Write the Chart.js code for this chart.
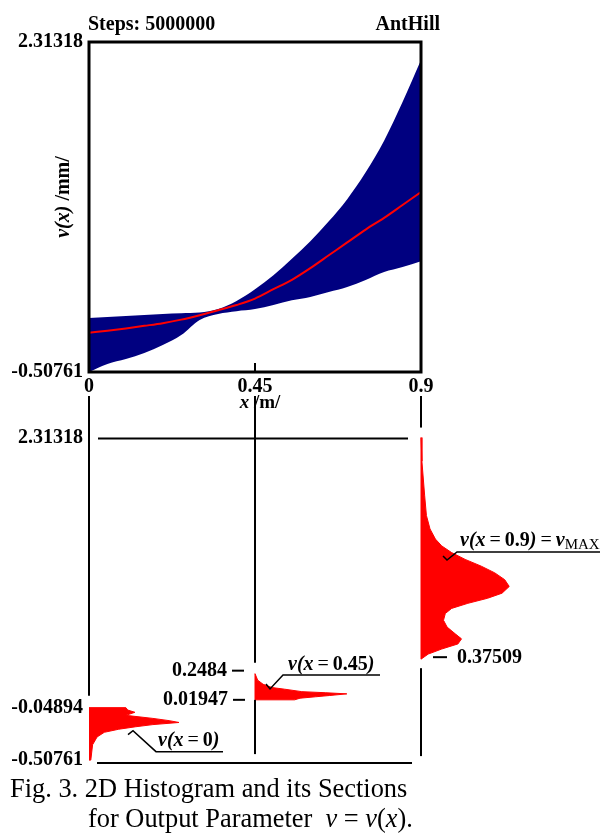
<!DOCTYPE html>
<html>
<head>
<meta charset="utf-8">
<script src="https://cdn.jsdelivr.net/npm/chart.js@4.4.0/dist/chart.umd.min.js"></script>
<style>
  body { margin: 0; background: #fff; width: 600px; height: 833px; position: relative; overflow: hidden; }
  canvas { position: absolute; left: 0; }
  #top { top: 0; }
  #bot { top: 380px; }
  .cap { position: absolute; font-family: "Liberation Serif", "Times New Roman", serif; font-size: 26.4px; line-height: 1; white-space: nowrap; color: #000; }
</style>
</head>
<body>
<canvas id="top" width="600" height="415"></canvas>
<canvas id="bot" width="600" height="453"></canvas>
<div class="cap" style="left:10px; top:775px;">Fig. 3. 2D Histogram and its Sections</div>
<div class="cap" style="left:88px; top:805px;">for Output Parameter&nbsp;&nbsp;<i>v</i> = <i>v</i>(<i>x</i>).</div>
<script>
// ---- top: 2D histogram envelope + mean ----
const xGrid  = [0, 0.05, 0.1, 0.15, 0.2, 0.25, 0.3, 0.35, 0.4, 0.45, 0.5, 0.55, 0.6, 0.65, 0.7, 0.75, 0.8, 0.85, 0.9];
const lowerV = [-0.5076, -0.439, -0.397, -0.345, -0.277, -0.192, -0.063, -0.012, 0.012, 0.03, 0.065, 0.105, 0.133, 0.176, 0.219, 0.279, 0.347, 0.39, 0.44];
const upperV = [-0.046, -0.038, -0.029, -0.021, -0.012, -0.006, 0.0, 0.031, 0.1, 0.2, 0.32, 0.46, 0.61, 0.78, 0.97, 1.2, 1.47, 1.8, 2.16];
const meanV  = [-0.172, -0.155, -0.135, -0.113, -0.09, -0.06, -0.022, 0.02, 0.065, 0.12, 0.2, 0.28, 0.38, 0.49, 0.6, 0.71, 0.81, 0.92, 1.03];

const vMin = -0.50761, vMax = 2.31318;
const xTicks = [0, 0.45, 0.9];
const xTickLabels = ['0', '0.45', '0.9'];
const yTickLabels = ['-0.50761', '2.31318'];

// ---- bottom: sections (relative frequency, peak ~ 1) ----
const sec0V  = [-0.04894, -0.07, -0.0895, -0.1162, -0.1429, -0.1624, -0.1786, -0.1972, -0.2159, -0.2377, -0.2645, -0.305, -0.3731, -0.50761];
const sec0D  = [0.41, 0.43, 0.51, 0.41, 0.71, 0.89, 1.0, 0.71, 0.52, 0.33, 0.17, 0.09, 0.04, 0.02];
const sec45V = [0.2484, 0.1912, 0.1554, 0.1268, 0.1125, 0.091, 0.0817, 0.0717, 0.0574, 0.0459, 0.0338, 0.01947];
const sec45D = [0.01, 0.03, 0.09, 0.19, 0.33, 0.52, 0.78, 1.02, 0.83, 0.67, 0.5, 0.44];
const sec90V = [2.31318, 2.1063, 1.8098, 1.6322, 1.5142, 1.4254, 1.3659, 1.3073, 1.2478, 1.1883, 1.1297, 1.0702, 1.0108,
                0.9522, 0.9078, 0.8634, 0.819, 0.7746, 0.7151, 0.6556, 0.597, 0.5527, 0.5083, 0.4639, 0.4195, 0.37509];
const sec90D = [0.01, 0.01, 0.04, 0.06, 0.10, 0.16, 0.23, 0.34, 0.49, 0.67, 0.82, 0.93, 0.98,
                0.90, 0.74, 0.52, 0.34, 0.27, 0.25, 0.29, 0.38, 0.45, 0.41, 0.23, 0.08, 0];
const botTickVals   = [2.31318, -0.04894, -0.50761];
const botTickLabels = ['2.31318', '-0.04894', '-0.50761'];

const SERIF = '"Liberation Serif", "Times New Roman", serif';
Chart.defaults.font.family = SERIF;
Chart.defaults.color = '#000';

const B  = 'bold 20px ' + SERIF;
const BI = 'italic bold 20px ' + SERIF;
const R  = '20px ' + SERIF;

function richText(ctx, parts, x, y, center) {
  let w = 0;
  parts.forEach(p => { ctx.font = p.f; w += ctx.measureText(p.t).width; });
  if (center) x -= w / 2;
  ctx.textAlign = 'left';
  parts.forEach(p => {
    ctx.font = p.f;
    ctx.fillText(p.t, x, y + (p.dy || 0));
    x += ctx.measureText(p.t).width;
  });
}

const pts = vals => xGrid.map((x, i) => ({ x: x, y: vals[i] }));

const topDecor = {
  id: 'topDecor',
  afterDatasetsDraw(chart) {
    const { ctx, chartArea: a, scales: { x } } = chart;
    ctx.save();
    ctx.strokeStyle = '#000';
    ctx.lineWidth = 3;
    ctx.strokeRect(a.left, a.top, a.right - a.left, a.bottom - a.top);
    // small inner tick at 0.45
    ctx.lineWidth = 2;
    ctx.beginPath();
    ctx.moveTo(x.getPixelForValue(0.45), a.bottom);
    ctx.lineTo(x.getPixelForValue(0.45), a.bottom - 9);
    ctx.stroke();

    ctx.fillStyle = '#000';
    ctx.textBaseline = 'alphabetic';
    ctx.font = B;
    ctx.textAlign = 'left';
    ctx.fillText('Steps: 5000000', a.left - 1, 30);
    ctx.textAlign = 'right';
    ctx.fillText('AntHill', a.right + 19, 30);

    // x title
    richText(ctx, [{ t: 'x', f: 'italic bold 19px ' + SERIF }, { t: ' /m/', f: 'bold 19px ' + SERIF }], x.getPixelForValue(0.45) + 5, 408, true);

    // y title
    ctx.save();
    ctx.translate(69, 197);
    ctx.rotate(-Math.PI / 2);
    richText(ctx, [{ t: 'v(x)', f: BI }, { t: ' /mm/', f: B }], 0, 0, true);
    ctx.restore();
    ctx.restore();
  }
};

new Chart(document.getElementById('top'), {
  type: 'line',
  data: {
    datasets: [
      { label: 'lower', data: pts(lowerV), borderWidth: 0, pointRadius: 0, fill: false, cubicInterpolationMode: 'monotone' },
      { label: 'upper', data: pts(upperV), borderWidth: 0, pointRadius: 0, backgroundColor: '#000080', fill: '-1', cubicInterpolationMode: 'monotone' },
      { label: 'mean', data: pts(meanV), borderColor: '#ff0000', borderWidth: 2, pointRadius: 0, fill: false,
        cubicInterpolationMode: 'monotone', order: -1 }
    ]
  },
  options: {
    responsive: false,
    animation: false,
    plugins: { legend: { display: false }, tooltip: { enabled: false } },
    layout: { padding: { top: 42, right: 179, left: 0, bottom: 0 } },
    scales: {
      x: {
        type: 'linear', min: 0, max: 0.9,
        afterBuildTicks: s => { s.ticks = xTicks.map(v => ({ value: v })); },
        afterFit: s => { s.height = 43; },
        grid: { display: false, drawTicks: false },
        border: { display: false },
        ticks: { font: { size: 20, weight: 'bold' }, padding: 3, maxRotation: 0, autoSkip: false,
                 callback: (v, i) => xTickLabels[i] }
      },
      y: {
        type: 'linear', min: vMin, max: vMax,
        afterBuildTicks: s => { s.ticks = [{ value: vMin }, { value: vMax }]; },
        afterFit: s => { s.width = 89; },
        grid: { display: false, drawTicks: false },
        border: { display: false },
        ticks: { font: { size: 20, weight: 'bold' }, padding: 6, autoSkip: false,
                 callback: (v, i) => yTickLabels[i] }
      }
    }
  },
  plugins: [topDecor]
});

// ---- bottom chart ----
const HIST_W = 0.244;   // x-units for relative frequency 1

function sectionShape(x0, vs, ds) {
  const out = [{ x: x0, y: vs[0] }];
  vs.forEach((v, i) => out.push({ x: x0 + ds[i] * HIST_W, y: v }));
  out.push({ x: x0, y: vs[vs.length - 1] });
  out.push({ x: x0, y: vs[0] });
  return out;
}

const botDecor = {
  id: 'botDecor',
  afterDatasetsDraw(chart) {
    const { ctx, scales: { x, y } } = chart;
    const X = v => x.getPixelForValue(v), Y = v => y.getPixelForValue(v);
    const seg = (x1, y1, x2, y2) => { ctx.beginPath(); ctx.moveTo(x1, y1); ctx.lineTo(x2, y2); ctx.stroke(); };
    const poly = p => { ctx.beginPath(); ctx.moveTo(p[0][0], p[0][1]); p.slice(1).forEach(q => ctx.lineTo(q[0], q[1])); ctx.stroke(); };
    ctx.save();
    ctx.strokeStyle = '#000';
    ctx.fillStyle = '#000';
    ctx.lineWidth = 2;

    // range lines
    seg(X(0) + 9, Y(vMax) + 1, X(0.9) - 13, Y(vMax) + 1);
    seg(X(0) + 8, Y(vMin) + 3, X(0.9) - 9, Y(vMin) + 3);

    // section axes
    const top = 16;
    seg(X(0), top, X(0), Y(sec0V[0]) - 12);
    seg(X(0.45), top, X(0.45), Y(sec45V[0]) - 11);
    seg(X(0.45), Y(sec45V[sec45V.length - 1]), X(0.45), Y(vMin) - 6);
    seg(X(0.9), top, X(0.9), Y(sec90V[0]) - 10);
    seg(X(0.9), Y(sec90V[sec90V.length - 1]) + 9, X(0.9), Y(vMin) - 4);

    // range labels of sections
    ctx.textBaseline = 'middle';
    ctx.font = B;
    ctx.textAlign = 'right';
    ctx.fillText('0.2484', X(0.45) - 28, Y(0.2484) - 3);
    seg(X(0.45) - 23, Y(0.2484) - 3, X(0.45) - 11, Y(0.2484) - 3);
    ctx.fillText('0.01947', X(0.45) - 27, Y(0.01947));
    seg(X(0.45) - 22, Y(0.01947), X(0.45) - 10, Y(0.01947));
    ctx.textAlign = 'left';
    seg(X(0.9) + 12, Y(0.37509) - 2, X(0.9) + 26, Y(0.37509) - 2);
    ctx.fillText('0.37509', X(0.9) + 36, Y(0.37509) - 1);

    // leaders
    ctx.lineWidth = 1.5;
    ctx.textBaseline = 'alphabetic';
    let ax = X(0) + 44, ay = Y(-0.25);
    poly([[ax - 5, ay + 4], [ax, ay], [ax + 23, ay + 21], [ax + 90, ay + 21]]);
    richText(ctx, [{ t: 'v(x', f: BI }, { t: '\u2009=\u2009', f: R }, { t: '0', f: B }, { t: ')', f: BI }], ax + 25, ay + 15);

    ax = X(0.45) + 15; ay = Y(0.115);
    poly([[ax - 4, ay - 5], [ax, ay], [ax + 13, ay - 14], [ax + 110, ay - 14]]);
    richText(ctx, [{ t: 'v(x', f: BI }, { t: '\u2009=\u2009', f: R }, { t: '0.45', f: B }, { t: ')', f: BI }], ax + 18, ay - 19);

    ax = X(0.9) + 26; ay = Y(1.2424);
    poly([[ax - 4, ay - 4], [ax, ay], [ax + 10, ay - 8], [ax + 160, ay - 8]]);
    richText(ctx, [{ t: 'v(x', f: BI }, { t: '\u2009=\u2009', f: R }, { t: '0.9', f: B }, { t: ')', f: BI },
                   { t: '\u2009=\u2009', f: R }, { t: 'v', f: BI }, { t: 'MAX', f: '15px ' + SERIF, dy: 3 }], ax + 13, ay - 14);
    ctx.restore();
  }
};

const red = '#ff0000';
const secStyle = { borderColor: red, borderWidth: 1, pointRadius: 0, backgroundColor: red, fill: 'shape', showLine: true };

new Chart(document.getElementById('bot'), {
  type: 'line',
  data: {
    datasets: [
      Object.assign({ label: 'v(x=0)', data: sectionShape(0, sec0V, sec0D) }, secStyle),
      Object.assign({ label: 'v(x=0.45)', data: sectionShape(0.45, sec45V, sec45D) }, secStyle),
      Object.assign({ label: 'v(x=0.9)', data: sectionShape(0.9, sec90V, sec90D) }, secStyle)
    ]
  },
  options: {
    responsive: false,
    animation: false,
    plugins: { legend: { display: false }, tooltip: { enabled: false } },
    layout: { padding: { top: 50, right: 0, left: 0, bottom: 63 } },
    scales: {
      x: { type: 'linear', min: 0, max: 1.3852, display: false },
      y: {
        type: 'linear', min: -0.59421, max: 2.37938,
        afterBuildTicks: s => { s.ticks = botTickVals.map(v => ({ value: v })); },
        afterFit: s => { s.width = 89; },
        grid: { display: false, drawTicks: false },
        border: { display: false },
        ticks: { font: { size: 20, weight: 'bold' }, padding: 6, autoSkip: false,
                 callback: (v, i) => botTickLabels[i] }
      }
    }
  },
  plugins: [botDecor]
});
</script>
</body>
</html>
